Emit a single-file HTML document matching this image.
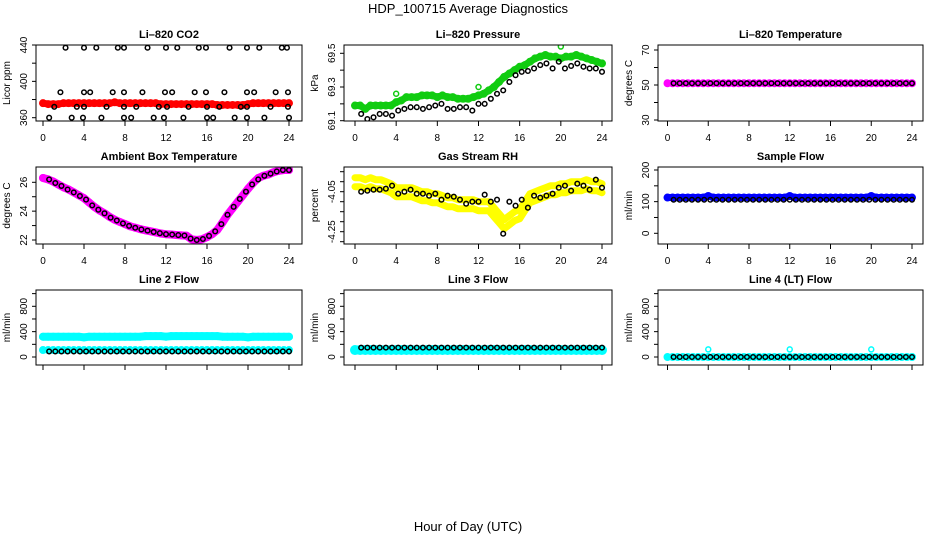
<!DOCTYPE html>
<html><head><meta charset="utf-8"><style>
html,body{margin:0;padding:0;background:#fff;}
svg{display:block;font-family:"Liberation Sans",sans-serif;}
</style></head><body>
<svg id="chart" width="936" height="540" viewBox="0 0 936 540">
<text x="468" y="13" font-size="13" text-anchor="middle">HDP_100715  Average Diagnostics</text>
<text x="468" y="531" font-size="13" text-anchor="middle">Hour of Day (UTC)</text>
</svg>
<script>
const TC=[0,0.5,1,1.5,2,2.5,3,3.5,4,4.5,5,5.5,6,6.5,7,7.5,8,8.5,9,9.5,10,10.5,11,11.5,12,12.5,13,13.5,14,14.5,15,15.5,16,16.5,17,17.5,18,18.5,19,19.5,20,20.5,21,21.5,22,22.5,23,23.5,24];
const TB=[0.6,1.2,1.8,2.4,3.0,3.6,4.2,4.8,5.4,6.0,6.6,7.2,7.8,8.4,9.0,9.6,10.2,10.8,11.4,12.0,12.6,13.2,13.8,14.4,15.0,15.6,16.2,16.8,17.4,18.0,18.6,19.2,19.8,20.4,21.0,21.6,22.2,22.8,23.4,24.0];
const xTicks=[0,4,8,12,16,20,24];
const co2Red=[376,375,375,375,376,376,376,376,376,376,376,376,376,376,377,376,376,376,376,376,376,376,376,375,375,375,375,375,375,375,375,375,375,375,374,374,374,374,374,374,375,376,376,376,376,376,376,376,376];
const co2Hours=[2.2,4.0,5.2,7.3,7.9,10.2,12.0,13.1,15.2,15.9,18.2,19.9,21.1,23.3,23.8,1.7,4.0,4.6,6.8,7.9,9.7,11.9,12.6,14.8,15.9,17.7,19.9,20.6,22.7,23.9,1.1,3.3,4.0,6.2,7.9,9.1,11.3,12.1,14.2,16.0,17.2,19.3,19.9,22.2,23.9,0.6,2.8,3.9,5.7,7.9,8.6,10.8,11.8,13.7,16.0,16.6,18.7,19.9,21.6,24.0];
const co2Black=[437,437,437,437,437,437,437,437,437,437,437,437,437,437,437,388,388,388,388,388,388,388,388,388,388,388,388,388,388,388,372,372,372,372,372,372,372,372,372,372,372,372,372,372,372,360,360,360,360,360,360,360,360,360,360,360,360,360,360,360];
const presGreen=[69.19,69.19,69.17,69.19,69.19,69.19,69.19,69.19,69.21,69.22,69.24,69.24,69.24,69.25,69.25,69.25,69.24,69.25,69.24,69.24,69.23,69.23,69.23,69.24,69.25,69.26,69.28,69.30,69.33,69.36,69.38,69.40,69.42,69.43,69.45,69.47,69.48,69.49,69.48,69.48,69.47,69.48,69.48,69.49,69.48,69.47,69.46,69.45,69.44];
const presOutHours=[4,12,20];
const presOutVals=[69.26,69.30,69.54];
const presBlack=[69.14,69.11,69.12,69.14,69.14,69.13,69.16,69.17,69.18,69.18,69.17,69.18,69.19,69.20,69.17,69.17,69.18,69.18,69.16,69.20,69.20,69.23,69.26,69.28,69.33,69.37,69.39,69.395,69.41,69.43,69.44,69.41,69.45,69.41,69.425,69.44,69.42,69.41,69.41,69.39];
const ltMag=[51,51,51,51,51,51,51,51,51,51,51,51,51,51,51,51,51,51,51,51,51,51,51,51,51,51,51,51,51,51,51,51,51,51,51,51,51,51,51,51,51,51,51,51,51,51,51,51,51];
const ltBlack=[51,51,51,51,51,51,51,51,51,51,51,51,51,51,51,51,51,51,51,51,51,51,51,51,51,51,51,51,51,51,51,51,51,51,51,51,51,51,51,51];
const ambMag=[26.3,26.2,26.05,25.85,25.65,25.5,25.3,25.1,24.9,24.6,24.3,24.05,23.85,23.6,23.4,23.25,23.1,22.95,22.85,22.75,22.67,22.6,22.53,22.45,22.4,22.38,22.35,22.32,22.3,22.05,22.0,22.05,22.2,22.4,22.7,23.2,23.75,24.2,24.65,25.1,25.55,25.95,26.3,26.45,26.55,26.7,26.8,26.85,26.85];
const ambBlack=[26.2,25.95,25.75,25.5,25.3,25.05,24.8,24.4,24.1,23.85,23.55,23.35,23.15,22.98,22.85,22.73,22.65,22.56,22.47,22.4,22.38,22.34,22.31,22.1,22.0,22.07,22.28,22.6,23.1,23.75,24.3,24.85,25.35,25.85,26.2,26.45,26.6,26.75,26.85,26.85];
const rhHi=[-3.98,-3.98,-3.99,-3.98,-3.99,-3.99,-4.00,-4.01,-4.03,-4.03,-4.03,-4.03,-4.04,-4.05,-4.05,-4.06,-4.06,-4.07,-4.08,-4.08,-4.09,-4.09,-4.09,-4.09,-4.10,-4.10,-4.10,-4.13,-4.16,-4.19,-4.17,-4.15,-4.14,-4.10,-4.06,-4.05,-4.04,-4.03,-4.02,-4.02,-4.01,-4.01,-4.00,-4.00,-4.00,-3.99,-4.00,-4.00,-4.01];
const rhLo=[-4.025,-4.025,-4.035,-4.025,-4.035,-4.035,-4.045,-4.055,-4.075,-4.075,-4.075,-4.075,-4.085,-4.095,-4.095,-4.105,-4.105,-4.115,-4.125,-4.125,-4.135,-4.135,-4.135,-4.135,-4.145,-4.145,-4.145,-4.175,-4.205,-4.235,-4.215,-4.195,-4.185,-4.145,-4.105,-4.095,-4.085,-4.075,-4.065,-4.065,-4.055,-4.055,-4.045,-4.045,-4.045,-4.035,-4.045,-4.045,-4.055];
const rhBlack=[-4.05,-4.045,-4.04,-4.04,-4.035,-4.02,-4.06,-4.05,-4.04,-4.06,-4.06,-4.07,-4.06,-4.09,-4.07,-4.075,-4.09,-4.11,-4.10,-4.10,-4.065,-4.10,-4.09,-4.26,-4.10,-4.12,-4.09,-4.13,-4.07,-4.08,-4.07,-4.06,-4.03,-4.02,-4.045,-4.01,-4.02,-4.04,-3.99,-4.03];
const sfBlue=[113,113,113,113,113,113,113,113,118,113,113,113,113,113,113,113,113,113,113,113,113,113,113,113,118,113,113,113,113,113,113,113,113,113,113,113,113,113,113,113,118,113,113,113,113,113,113,113,113];
const sfBlack=[106,106,106,106,106,106,106,106,106,106,106,106,106,106,106,106,106,106,106,106,106,106,106,106,106,106,106,106,106,106,106,106,106,106,106,106,106,106,106,106];
const l2CyanHi=[320,320,320,320,320,320,320,320,310,320,320,320,320,320,320,320,320,320,320,320,330,330,330,330,320,330,330,330,330,330,330,330,330,330,330,320,320,320,320,320,310,320,320,320,320,320,320,320,320];
const l2CyanLo=[110,110,110,110,110,110,110,110,110,110,110,110,110,110,110,110,110,110,110,110,110,110,110,110,110,110,110,110,110,110,110,110,110,110,110,110,110,110,110,110,110,110,110,110,110,110,110,110,110];
const l2Black=[88,88,88,88,88,88,88,88,88,88,88,88,88,88,88,88,88,88,88,88,88,88,88,88,88,88,88,88,88,88,88,88,88,88,88,88,88,88,88,88];
const l3Cyan=[110,110,110,110,110,110,110,110,110,110,110,110,110,110,110,110,110,110,110,110,110,110,110,110,110,110,110,110,110,110,110,110,110,110,110,110,110,110,110,110,110,110,110,110,110,110,110,110,110];
const l3Black=[148,148,148,148,148,148,148,148,148,148,148,148,148,148,148,148,148,148,148,148,148,148,148,148,148,148,148,148,148,148,148,148,148,148,148,148,148,148,148,148];
const l4Cyan=[0,0,0,0,0,0,0,0,0,0,0,0,0,0,0,0,0,0,0,0,0,0,0,0,0,0,0,0,0,0,0,0,0,0,0,0,0,0,0,0,0,0,0,0,0,0,0,0,0];
const l4OutHours=[4,12,20];
const l4OutVals=[120,120,120];
const l4Black=[0,0,0,0,0,0,0,0,0,0,0,0,0,0,0,0,0,0,0,0,0,0,0,0,0,0,0,0,0,0,0,0,0,0,0,0,0,0,0,0];
const flowTicks=[0,200,400,600,800,1000];
const flowLabels=["0","","400","","800",""];

const svg=document.getElementById('chart');
const NS='http://www.w3.org/2000/svg';
function mk(tag,attrs,parent){const e=document.createElementNS(NS,tag);for(const k in attrs)e.setAttribute(k,attrs[k]);(parent||svg).appendChild(e);return e;}
const cols=[{l:36,r:302,x0:43,x24:289},{l:344,r:612,x0:355,x24:602},{l:658,r:923,x0:667.5,x24:912}];
const rows=[{t:45,b:121,lab:true},{t:167,b:244,lab:true},{t:290,b:365,lab:false}];

function panel(o){
  const c=cols[o.col],rw=rows[o.row];
  const g=mk('g',{});
  
  
  const xs=h=>c.x0+(h)*(c.x24-c.x0)/24;
  const ys=v=>o.ya[1]+(v-o.ya[0])*(o.yb[1]-o.ya[1])/(o.yb[0]-o.ya[0]);
  const t=mk('text',{x:(c.l+c.r)/2,y:rw.t-7,'font-size':11,'font-weight':'bold','text-anchor':'middle'},g);
  t.textContent=o.title;
  
  
  const yl=mk('text',{transform:`translate(${c.l-26},${(rw.t+rw.b)/2}) rotate(-90)`,'font-size':10,'text-anchor':'middle'},g);
  yl.textContent=o.ylab;
  
  
  const yax=mk('g',{},g);
  
  
  o.yticks.forEach((v,i)=>{
    const y=ys(v);
    mk('line',{x1:c.l-4,x2:c.l,y1:y,y2:y,stroke:'#000','stroke-width':1},yax);
    if(o.ylabels[i]){const tx=mk('text',{transform:`translate(${c.l-9},${y}) rotate(-90)`,'font-size':10,'text-anchor':'middle'},yax);tx.textContent=o.ylabels[i];}
  });
  const yt0=ys(o.yticks[0]),yt1=ys(o.yticks[o.yticks.length-1]);
  mk('line',{x1:c.l,x2:c.l,y1:yt0,y2:yt1,stroke:'#000'},yax);
  const xax=mk('g',{},g);
  
  
  xTicks.forEach(h=>{
    const x=xs(h);
    mk('line',{x1:x,x2:x,y1:rw.b,y2:rw.b+5,stroke:'#000'},xax);
    if(rw.lab){const tx=mk('text',{x:x,y:rw.b+20,'font-size':10,'text-anchor':'middle'},xax);tx.textContent=String(h);}
  });
  const clip='clip'+o.col+o.row;
  const cp=mk('clipPath',{id:clip},g);mk('rect',{x:c.l,y:rw.t,width:c.r-c.l,height:rw.b-rw.t},cp);
  const pg=mk('g',{'clip-path':`url(#${clip})`},g);
  o.series.forEach(s=>{
    const sg=mk('g',{},pg);
    
    
    if(s.band){
      const d=s.v.map((v,i)=>(i?'L':'M')+xs(s.x[i]).toFixed(1)+','+ys(v).toFixed(1)).join('');
      const p=mk('path',{d:d,fill:'none',stroke:s.col,'stroke-width':s.band,'stroke-linecap':'round','stroke-linejoin':'round'},sg);
      
      
    }
    s.v.forEach((v,i)=>{
      const pt=mk('circle',{cx:xs(s.x[i]),cy:ys(v),r:s.r,fill:'none',stroke:s.col,'stroke-width':s.w},sg);
      
      
    });
  });
  const box=mk('rect',{x:c.l,y:rw.t,width:c.r-c.l,height:rw.b-rw.t,fill:'none',stroke:'#000','stroke-width':1},g);
  
  
}
const dense=(name,v,col,r,w,band)=>({name:name,x:TC,v:v,col:col,r:r||3.5,w:w||2.5,band:band||7});
const blk=(name,v)=>({name:name,x:TB,v:v,col:'#000',r:2.3,w:1.5});

panel({name:'panel-li820-co2',col:0,row:0,title:'Li\u2013820 CO2',ylab:'Licor ppm',ya:[440,45],yb:[360,117.7],yticks:[360,380,400,420,440],ylabels:['360','','400','','440'],
  series:[dense('co2-red-series',co2Red,'#f00',3,2,7),{name:'co2-black-series',x:co2Hours,v:co2Black,col:'#000',r:2.3,w:1.5}]});
panel({name:'panel-li820-pressure',col:1,row:0,title:'Li\u2013820 Pressure',ylab:'kPa',ya:[69.5,53.3],yb:[69.1,120.7],yticks:[69.1,69.2,69.3,69.4,69.5],ylabels:['69.1','','69.3','','69.5'],
  series:[dense('pressure-green-series',presGreen,'#1c1',3,2,7),{name:'pressure-outliers',x:presOutHours,v:presOutVals,col:'#1c1',r:2.5,w:1.5},blk('pressure-black-series',presBlack)]});
panel({name:'panel-li820-temperature',col:2,row:0,title:'Li\u2013820 Temperature',ylab:'degrees C',ya:[70,50],yb:[30,120],yticks:[30,40,50,60,70],ylabels:['30','','50','','70'],
  series:[dense('temp-magenta-series',ltMag,'#f0f',3,2,6),blk('temp-black-series',ltBlack)]});
panel({name:'panel-ambient-box-temperature',col:0,row:1,title:'Ambient Box Temperature',ylab:'degrees C',ya:[26,182.3],yb:[22,240],yticks:[22,23,24,25,26],ylabels:['22','','24','','26'],
  series:[dense('ambient-magenta-series',ambMag,'#f0f',3,2,8),blk('ambient-black-series',ambBlack)]});
panel({name:'panel-gas-stream-rh',col:1,row:1,title:'Gas Stream RH',ylab:'percent',ya:[-4.05,191.7],yb:[-4.25,231.7],yticks:[-4.30,-4.25,-4.20,-4.15,-4.10,-4.05,-4.00,-3.95],ylabels:['','-4.25','','','','-4.05','',''],
  series:[dense('rh-yellow-upper',rhHi,'#ff0',2.5,1.5,7),dense('rh-yellow-lower',rhLo,'#ff0',2.5,1.5,7),blk('rh-black-series',rhBlack)]});
panel({name:'panel-sample-flow',col:2,row:1,title:'Sample Flow',ylab:'ml/min',ya:[200,170],yb:[0,233.3],yticks:[0,50,100,150,200],ylabels:['0','','100','','200'],
  series:[dense('sample-blue-series',sfBlue,'#00f',3,2,7),blk('sample-black-series',sfBlack)]});
panel({name:'panel-line2-flow',col:0,row:2,title:'Line 2 Flow',ylab:'ml/min',ya:[800,306.3],yb:[0,357],yticks:flowTicks,ylabels:flowLabels,
  series:[dense('line2-cyan-upper',l2CyanHi,'#0ff',3,2,8),dense('line2-cyan-lower',l2CyanLo,'#0ff',3,2,6),blk('line2-black-series',l2Black)]});
panel({name:'panel-line3-flow',col:1,row:2,title:'Line 3 Flow',ylab:'ml/min',ya:[800,306.3],yb:[0,357],yticks:flowTicks,ylabels:flowLabels,
  series:[dense('line3-cyan-series',l3Cyan,'#0ff',3.5,3,9),blk('line3-black-series',l3Black)]});
panel({name:'panel-line4-flow',col:2,row:2,title:'Line 4 (LT) Flow',ylab:'ml/min',ya:[800,306.3],yb:[0,357],yticks:flowTicks,ylabels:flowLabels,
  series:[dense('line4-cyan-series',l4Cyan,'#0ff',3,2,6),{name:'line4-outliers',x:l4OutHours,v:l4OutVals,col:'#0ff',r:2.5,w:1.5},blk('line4-black-series',l4Black)]});
</script>
</body></html>
